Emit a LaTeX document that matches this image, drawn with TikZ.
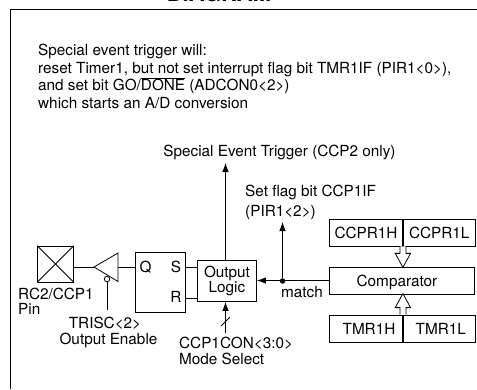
\documentclass[tikz,border=0pt]{standalone}
\usepackage{fontspec}
\setmainfont{TeX Gyre Heros}
\usepackage{tikz}
\usetikzlibrary{arrows.meta,positioning,calc}
\tikzset{
    lbl/.style={
        align=left,
        inner sep=0pt,
        font=\fontsize{15.3}{15.5}\selectfont
    },
    box/.style={
        draw,
        line width=0.8pt,
        align=center,
        inner sep=0pt,
        font=\fontsize{15.3}{15.5}\selectfont
    },
    flow/.style={-{Latex[length=9pt,width=6.5pt]}, line width=0.8pt},
    wire/.style={line width=0.8pt},
    junction/.style={circle, fill, inner sep=0pt, minimum size=5.5pt}
}
\newcommand{\busarrow}[2]{%
    \draw[wire, fill=white] ($(#1)+(-3,0)$) -- ++(0,7*#2) -- ++(-4.7,0) -- ++(7.7,14*#2)
        -- ++(7.7,-14*#2) -- ++(-4.7,0) -- ++(0,-7*#2);}

\begin{document}
\begin{tikzpicture}[x=1pt,y=-1pt,node distance=7mm and 10mm]
        \useasboundingbox (0,0) rectangle (477,389);
        \draw[line width=0.9pt] (477,9.5) -- (10.5,9.5) -- (10.5,389);
        \node[anchor=base, inner sep=0pt, font=\fontsize{22}{24}\selectfont\bfseries] (title) at (219,1.5) {DIAGRAM};
        \node[lbl, anchor=north west, font=\fontsize{15.3}{17.5}\selectfont] (note) at (38,44) {Special event trigger will:\\
            reset Timer1, but not set interrupt flag bit TMR1IF (PIR1<0>),\\
            and set bit GO/$\overline{\mbox{DONE}}$ (ADCON0<2>)\\
            which starts an A/D conversion};

        % registers and comparator
        \node[box, minimum width=73pt, minimum height=26.5pt] (ccprh) at (366,232.7) {CCPR1H};
        \node[box, minimum width=72pt, minimum height=26.5pt, right=0pt of ccprh] (ccprl) {CCPR1L};
        \node[box, minimum width=145pt, minimum height=27pt, text depth=0pt] (comp) at (402,280.5) {Comparator\hspace*{10pt}};
        \node[box, minimum width=73pt, minimum height=27pt] (tmrh) at (366,328.5) {\hspace*{6pt}TMR1H};
        \node[box, minimum width=72pt, minimum height=27pt, right=0pt of tmrh] (tmrl) {\hspace*{3pt}TMR1L};

        % output stage
        \node[box, minimum width=59pt, minimum height=41.5pt] (logic) at (227,280.8) {Output\\Logic};
        \node[box, minimum width=50pt, minimum height=59.5pt] (ff) at (160.5,282.2) {};
        \node[lbl] (ffq) at (145.5,267) {Q};
        \node[lbl] (ffs) at (176,267) {S};
        \node[lbl] (ffr) at (176,297) {R};
        \coordinate (buftip) at (94,267);
        \coordinate (buftop) at (118,253);
        \coordinate (bufbot) at (118,281.5);
        \draw[wire] (buftip) -- (buftop) -- (bufbot) -- cycle;
        \node[draw, wire, circle, fill=white, inner sep=0pt, minimum size=5.5pt] (bubble) at (107,279) {};
        \node[draw, wire, minimum width=36pt, minimum height=36pt, inner sep=0pt] (pin) at (55.5,264) {};
        \draw[wire] (pin.north west) -- (pin.south east);
        \draw[wire] (pin.south west) -- (pin.north east);

        % labels
        \node[lbl, anchor=north west] (pinlbl) at (18,287.5) {RC2/CCP1\\Pin};
        \node[lbl, anchor=north, align=center] (trislbl) at (108.5,317) {TRISC<2>\hspace*{7pt}\\Output Enable};
        \node[lbl, anchor=north west] (modelbl) at (179,337) {CCP1CON<3:0>\\Mode Select};
        \node[lbl, anchor=south] (evtlbl) at (279.5,160) {Special Event Trigger (CCP2 only)};
        \node[lbl, anchor=north west] (flaglbl) at (245,185) {Set flag bit CCP1IF\\[4.5pt](PIR1<2>)};
        \node[lbl, anchor=north west] (matchlbl) at (281,286) {match};

        \node[junction] (dot) at (282.5,281) {};
        \coordinate (trisend) at (107,310);
        \coordinate (modeend) at (225.5,333);
        \coordinate (evtend) at (225.5,163);
        \coordinate (flagend) at (282.5,222);
        \coordinate (slasha) at (221,326);
        \coordinate (slashb) at (230,317);

        \draw[wire] (pin.east |- buftip) -- (buftip);
        \draw[wire] (buftop |- buftip) -- (ff.west |- buftip);
        \draw[wire] (bubble) -- (trisend);
        \draw[wire] (ffs -| ff.east) -- (ffs -| logic.west);
        \draw[wire] ($(ffr -| ff.east)+(0,1.5)$) -- ($(ffr -| logic.west)+(0,1.5)$);
        \draw[flow] (comp.west) -- (logic.east |- comp.west);
        \draw[flow] (dot) -- (flagend);
        \draw[flow] (logic.north -| evtend) -- (evtend);
        \draw[flow] (modeend) -- (logic.south -| modeend);
        \draw[wire] (slasha) -- (slashb);

        \busarrow{ccprh.south east}{1}
        \busarrow{tmrh.north east}{-1}
    \end{tikzpicture}
\end{document}
